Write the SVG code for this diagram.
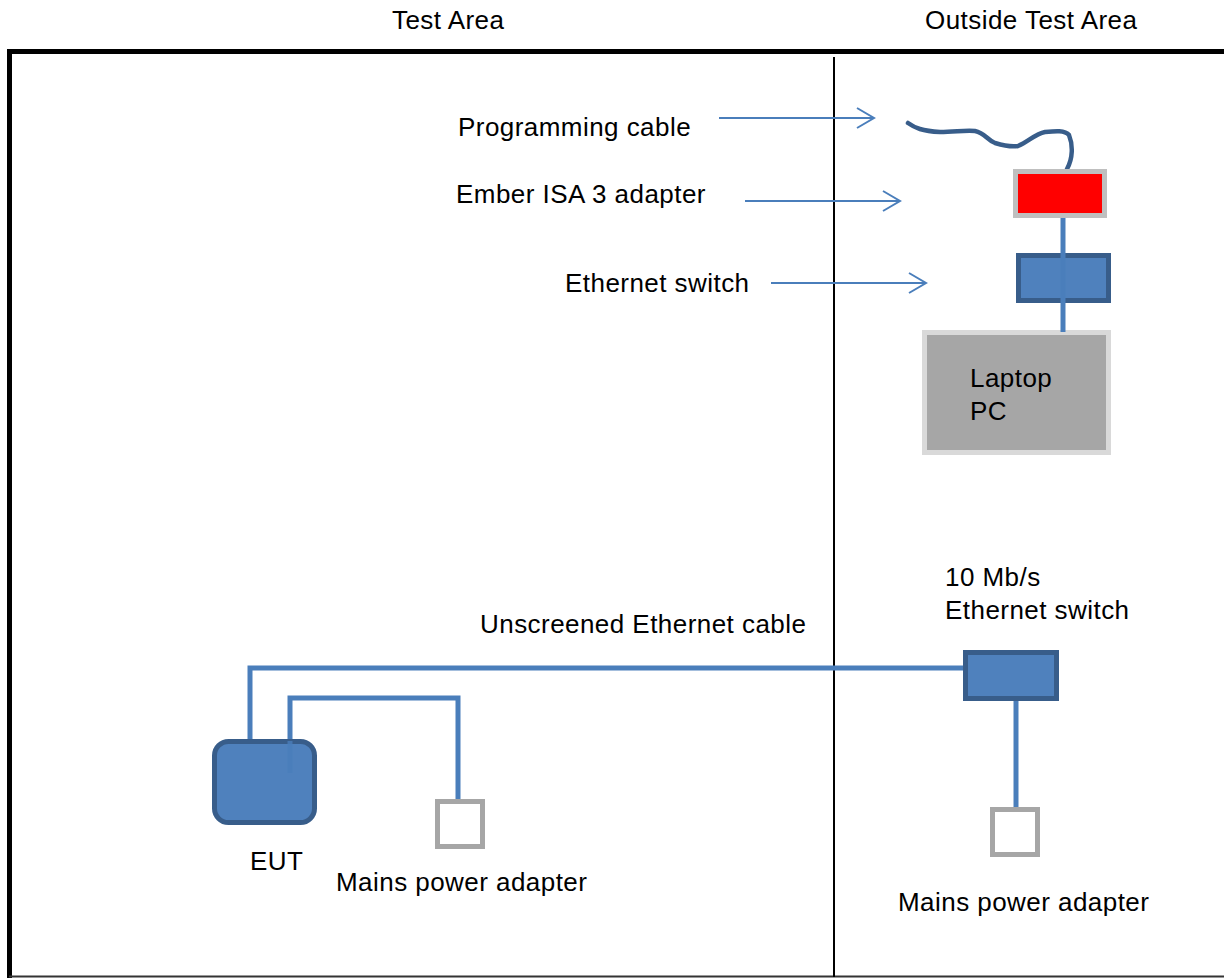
<svg xmlns="http://www.w3.org/2000/svg" width="1224" height="978" viewBox="0 0 1224 978">
<defs>
<style>
text{font-family:"Liberation Sans",Arial,sans-serif;font-size:26px;letter-spacing:0.45px;fill:#000}
.cable{stroke:#4a7ebb;stroke-width:5;fill:none}
.ptr{stroke:#4a7ebb;stroke-width:2;fill:none}
.sw{fill:#4f81bd;stroke:#385d8a;stroke-width:5}
.mains{fill:#fff;stroke:#a6a6a6;stroke-width:5}
</style>
<marker id="chev" markerWidth="20" markerHeight="24" refX="18" refY="10" orient="auto" markerUnits="userSpaceOnUse" viewBox="0 0 20 20">
<path d="M1,0 L18,10 L1,20" fill="none" stroke="#4a7ebb" stroke-width="2"/>
</marker>
</defs>
<rect width="1224" height="978" fill="#fff"/>
<g id="frame">
<line x1="7" y1="51.5" x2="1224" y2="51.5" stroke="#000" stroke-width="5"/>
<line x1="9.5" y1="49" x2="9.5" y2="978" stroke="#000" stroke-width="5"/>
<line x1="9" y1="976.5" x2="1224" y2="976.5" stroke="#333" stroke-width="2"/>
<line x1="834" y1="57" x2="834" y2="977" stroke="#000" stroke-width="2"/>
</g>
<g id="headers">
<text x="392" y="29">Test Area</text>
<text x="925" y="29">Outside Test Area</text>
</g>
<g id="labels">
<text x="458" y="136">Programming cable</text>
<text x="456" y="203">Ember ISA 3 adapter</text>
<text x="565" y="292">Ethernet switch</text>
<text x="480" y="633">Unscreened Ethernet cable</text>
<text x="945" y="586">10 Mb/s</text>
<text x="945" y="619">Ethernet switch</text>
</g>
<g id="connectors">
<line class="ptr" x1="719" y1="118" x2="874" y2="118" marker-end="url(#chev)"/>
<line class="ptr" x1="745" y1="201" x2="900" y2="201" marker-end="url(#chev)"/>
<line class="ptr" x1="771" y1="283" x2="926" y2="283" marker-end="url(#chev)"/>
<path d="M908,123 C915,128 922,131 940,132 C955,132 965,130 975,131 C985,133 987,140 995,143 C1005,146 1012,147 1018,146 C1028,142 1035,134 1045,132 C1055,131 1065,130 1069,135 C1073,145 1073,158 1067,169" fill="none" stroke="#385d8a" stroke-width="4.5" stroke-linecap="round"/>
<path class="cable" d="M250,742 V668 H966"/>
<path class="cable" d="M290,773 V698 H458 V801"/>
<line class="cable" x1="1016" y1="701" x2="1016" y2="807"/>
</g>
<g id="ember-adapter">
<rect x="1015.5" y="171.5" width="89" height="44" fill="#f00" stroke="#bfbfbf" stroke-width="5"/>
</g>
<g id="ethernet-switch-top">
<rect class="sw" x="1018.5" y="255.5" width="90" height="45"/>
</g>
<g id="laptop">
<rect x="924.5" y="332.5" width="184" height="120" fill="#a6a6a6" stroke="#d9d9d9" stroke-width="5"/>
<text x="970" y="387">Laptop</text>
<text x="970" y="420">PC</text>
</g>
<g id="top-link">
<line class="cable" x1="1063" y1="218" x2="1063" y2="332"/>
</g>
<g id="eut">
<rect class="sw" x="214.5" y="741.5" width="100" height="81" rx="14"/>
<line x1="290" y1="741" x2="290" y2="773" stroke="#4a7ebb" stroke-width="5" opacity="0.8"/>
<text x="250" y="870">EUT</text>
</g>
<g id="mains-left">
<rect class="mains" x="437.5" y="801.5" width="45" height="45"/>
<text x="336" y="891">Mains power adapter</text>
</g>
<g id="switch-bottom">
<rect class="sw" x="965.5" y="652.5" width="91" height="46"/>
</g>
<g id="mains-right">
<rect class="mains" x="992.5" y="809.5" width="45" height="45"/>
<text x="898" y="911">Mains power adapter</text>
</g>
</svg>
